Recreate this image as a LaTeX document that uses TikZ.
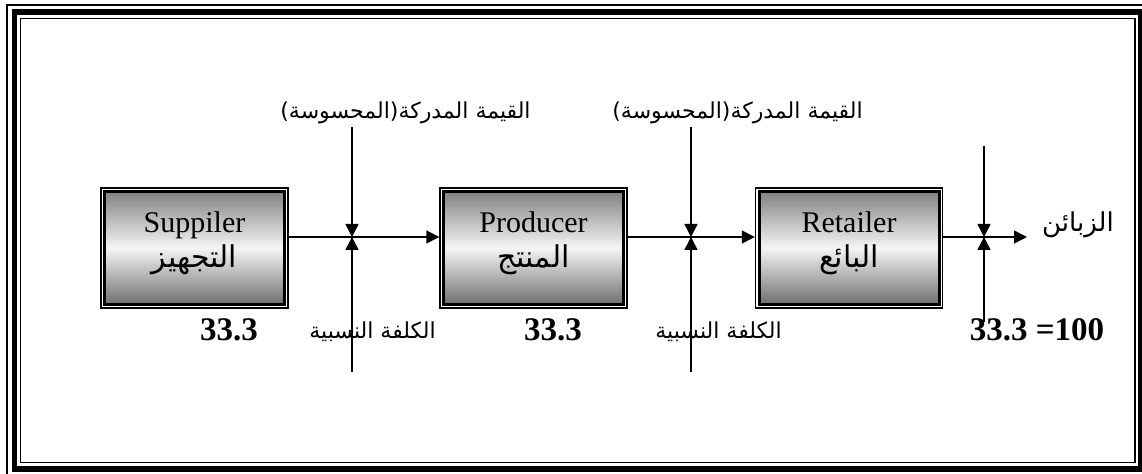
\documentclass[tikz,border=0pt]{standalone}
\usepackage{fontspec}
\setmainfont{Liberation Serif}
\newfontfamily\arabicfont[Script=Arabic]{DejaVu Sans}
\TeXXeTstate=1
\usetikzlibrary{arrows.meta}
\newcommand{\artext}[1]{{\arabicfont\beginR #1\endR}}
\tikzset{
  chainbox/.style={draw, line width=0.7pt, minimum width=93.5pt, minimum height=60pt,
    inner sep=0pt, top color=black!52, bottom color=black!60, middle color=black!4,
    path picture={
      \draw[line width=5pt] (path picture bounding box.south west) rectangle (path picture bounding box.north east);
      \draw[white, line width=2pt] (path picture bounding box.south west) rectangle (path picture bounding box.north east);
    }},
  boxtext/.style={align=center, inner sep=0pt, font=\fontsize{15}{17.5}\selectfont},
  flow/.style={line width=0.75pt, -{Triangle[length=6.5pt,width=6.5pt]}},
  arlabel/.style={inner sep=0pt, font=\fontsize{11}{13}\selectfont},
  share/.style={inner sep=0pt, font=\fontsize{16.5}{18}\selectfont\bfseries}
}
\begin{document}
\begin{tikzpicture}[x=0.5pt, y=-0.5pt]
  \useasboundingbox (0,0) rectangle (1142,474);
  % frame
  \draw[line width=0.75pt] (7,5) rectangle (1148,479);
  \draw[line width=2.75pt] (14.5,12) rectangle (1140.5,469);
  \draw[line width=0.75pt] (20.5,18.5) rectangle (1135,462.5);

  \node[chainbox] (sup) at (194.5,248) {};
  \node[chainbox] (pro) at (533.5,248) {};
  \node[chainbox] (ret) at (849,248) {};
  \node[boxtext] (suptxt) at ([yshift=2.5pt]sup.center) {Suppiler\\\artext{التجهيز}};
  \node[boxtext] (protxt) at ([yshift=2.5pt]pro.center) {Producer\\\artext{المنتج}};
  \node[boxtext] (rettxt) at ([yshift=2.5pt]ret.center) {Retailer\\\artext{البائع}};

  \coordinate (j1) at (352,237);
  \coordinate (j2) at (691,237);
  \coordinate (j3) at (984,237);
  \coordinate (t1) at (352,127);
  \coordinate (t2) at (691,127);
  \coordinate (t3) at (984,146);
  \coordinate (b1) at (352,372);
  \coordinate (b2) at (691,372);
  \coordinate (b3) at (984,322);
  \coordinate (out) at (1027,237);

  \draw[flow] ([yshift=5.5pt]sup.east) -- ([yshift=5.5pt]pro.west);
  \draw[flow] ([yshift=5.5pt]pro.east) -- ([yshift=5.5pt]ret.west);
  \draw[flow] ([yshift=5.5pt]ret.east) -- (out);
  \foreach \i in {1,2,3} {
    \draw[flow] (t\i) -- (j\i);
    \draw[flow] (b\i) -- (j\i);
  }

  \node[arlabel] (val1) at (405.5,113) {\artext{القيمة المدركة(المحسوسة)}};
  \node[arlabel] (val2) at (737.5,113) {\artext{القيمة المدركة(المحسوسة)}};
  \node[arlabel] (cost1) at (372.5,332) {\artext{الكلفة النسبية}};
  \node[arlabel] (cost2) at (718.5,332) {\artext{الكلفة النسبية}};
  \node[arlabel, font=\fontsize{13}{15}\selectfont] (cust) at (1078,225) {\artext{الزبائن}};

  \node[share] (s1) at (229,330) {33.3};
  \node[share] (s2) at (553,330) {33.3};
  \node[share] (s3) at (1037,330) {33.3 =100};
\end{tikzpicture}
\end{document}
